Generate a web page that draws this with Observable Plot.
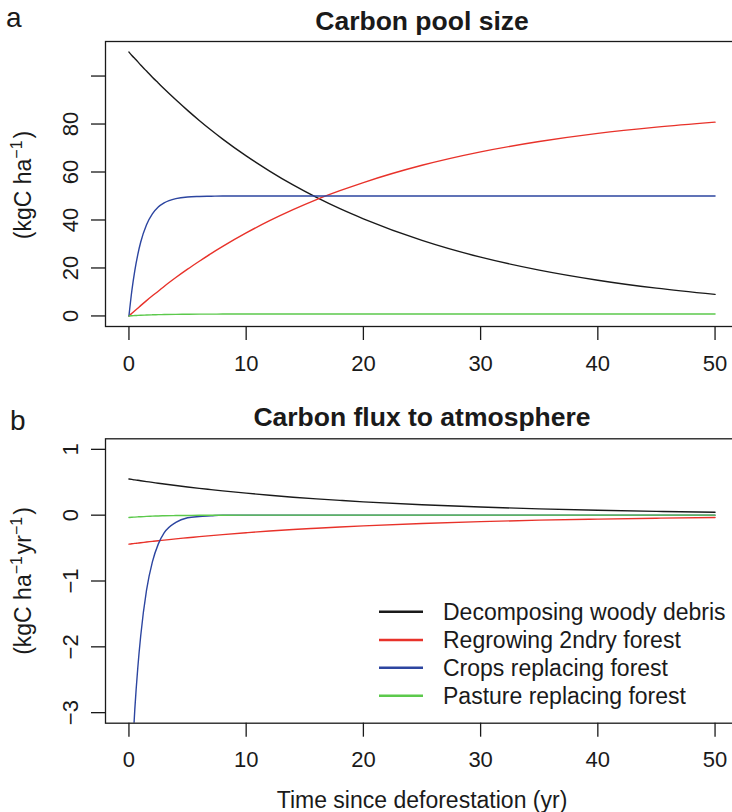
<!DOCTYPE html>
<html><head><meta charset="utf-8">
<script src="https://cdn.jsdelivr.net/npm/d3@7"></script>
<script src="https://cdn.jsdelivr.net/npm/@observablehq/plot@0.6"></script>
<style>
html,body{margin:0;padding:0;background:#fff;}
#chart{width:732px;height:812px;overflow:hidden;font-family:"Liberation Sans",Arial,Helvetica,sans-serif;}
#chart svg{display:block;overflow:hidden;}
</style></head><body><div id="chart"></div>
<script>
// ---- data ----
const years = [0,0.25,0.5,0.75,1,1.5,2,2.5,3,4,5,6,7,8,10,12,14,16,18,20,25,30,35,40,45,50];
const seriesNames = ["Decomposing woody debris","Regrowing 2ndry forest","Crops replacing forest","Pasture replacing forest"];
const seriesColors = ["#1a1a1a","#e8322a","#2c45a0","#5cc94c"];

const poolWoody  = [110,108.6,107.3,106.0,104.6,102.1,99.5,97.1,94.7,90.1,85.7,81.5,77.5,73.7,66.7,60.4,54.6,49.4,44.7,40.5,31.5,24.5,19.1,14.9,11.6,9.0];
const poolRegrow = [0,1.1,2.2,3.2,4.3,6.4,8.4,10.3,12.3,16.0,19.5,22.8,26.0,29.0,34.6,39.7,44.3,48.5,52.2,55.6,62.8,68.4,72.7,76.1,78.7,80.8];
const poolCrops  = [0,10.6,18.9,25.5,30.7,38.0,42.5,45.4,47.1,48.9,49.6,49.8,49.9,50,50,50,50,50,50,50,50,50,50,50,50,50];
const poolPasture= [0,0.09,0.16,0.23,0.29,0.39,0.47,0.54,0.59,0.67,0.72,0.75,0.77,0.78,0.79,0.80,0.80,0.80,0.80,0.80,0.80,0.80,0.80,0.80,0.80,0.80];

const fluxWoody  = [0.55,0.543,0.536,0.530,0.523,0.510,0.498,0.485,0.473,0.450,0.428,0.407,0.388,0.369,0.334,0.302,0.273,0.247,0.224,0.202,0.158,0.123,0.096,0.074,0.058,0.045];
const fluxRegrow = [-0.44,-0.435,-0.429,-0.424,-0.419,-0.408,-0.398,-0.388,-0.379,-0.360,-0.343,-0.326,-0.310,-0.295,-0.267,-0.241,-0.218,-0.198,-0.179,-0.162,-0.126,-0.098,-0.076,-0.060,-0.046,-0.036];
const fluxCrops  = [-4.75,-3.75,-2.95,-2.33,-1.84,-1.14,-0.71,-0.44,-0.27,-0.11,-0.04,-0.02,-0.01,0,0,0,0,0,0,0,0,0,0,0,0,0];
const fluxPasture= [-0.036,-0.032,-0.029,-0.026,-0.023,-0.018,-0.015,-0.012,-0.009,-0.006,-0.004,-0.002,-0.002,-0.001,0,0,0,0,0,0,0,0,0,0,0,0];

const xTicks = [0,10,20,30,40,50];
const poolTicks = [0,20,40,60,80,100];
const poolTickLabels = [0,20,40,60,80];
const fluxTicks = [-3,-2,-1,0,1];

const titleA = "Carbon pool size";
const titleB = "Carbon flux to atmosphere";
const xLabel = "Time since deforestation (yr)";

// ---- build ----
const FONT = '"Liberation Sans", Arial, Helvetica, sans-serif';
const INK = "#1a1a1a";
function rows(arrs){ return arrs.flatMap((a,i)=>years.map((t,j)=>({t, v:a[j], s:seriesNames[i]}))); }
const poolData = rows([poolWoody,poolRegrow,poolCrops,poolPasture]);
const fluxData = rows([fluxWoody,fluxRegrow,fluxCrops,fluxPasture]);
const fmt = d => d < 0 ? "\u2212" + Math.abs(d) : String(d);

function panel({data, height, mt, mb, ydom, yticks, ylabels, title, titleDy, padX, extra}){
  return Plot.plot({
    width:732, height,
    marginLeft:105, marginRight:-6, marginTop:mt, marginBottom:mb,
    style:{fontFamily:FONT, background:"white", color:INK, overflow:"hidden"},
    x:{domain:[-2,52]},
    y:{domain:ydom},
    color:{domain:seriesNames, range:seriesColors},
    marks:[
      Plot.line(data,{x:"t", y:"v", stroke:"s", strokeWidth:1.4, curve:"monotone-x", clip:true}),
      Plot.frame({stroke:INK, strokeWidth:1.3}),
      Plot.axisX({ticks:xTicks, tickSize:14, tickPadding:padX, fontSize:22, label:null, strokeWidth:1.3}),
      Plot.axisY({ticks:yticks, tickSize:14, tickFormat:()=>"", label:null, strokeWidth:1.3}),
      Plot.text(ylabels,{y:d=>d, text:fmt, frameAnchor:"left", dx:-35, rotate:-90, fontSize:22, lineAnchor:"middle", textAnchor:"middle"}),
      Plot.text([title],{frameAnchor:"top", dy:titleDy, fontSize:26.5, fontWeight:"bold", lineAnchor:"middle"}),
      ...(extra||[])
    ]
  });
}

const plotA = panel({data:poolData, height:390, mt:41, mb:64, ydom:[-4.4,114.4],
  yticks:poolTicks, ylabels:poolTickLabels, title:titleA, titleDy:-20, padX:15});
const plotB = panel({data:fluxData, height:422, mt:48.3, mb:89.3, ydom:[-3.16,1.16],
  yticks:fluxTicks, ylabels:fluxTicks, title:titleB, titleDy:-21.3, padX:14,
  extra:[Plot.text([xLabel],{frameAnchor:"bottom", dy:77, fontSize:23, lineAnchor:"middle"})]});

const root = document.getElementById("chart");
root.append(plotA, plotB);

function decorate(svgEl, letter, lx, ly, cy, sups){
  const svg = d3.select(svgEl);
  svg.append("text").attr("x",lx).attr("y",ly).attr("text-anchor","start").attr("font-size",28)
    .attr("font-family",FONT).attr("fill",INK).text(letter);
  const t = svg.append("text").attr("transform",`translate(31,${cy}) rotate(-90)`)
    .attr("text-anchor","middle").attr("font-size",23).attr("font-family",FONT).attr("fill",INK);
  sups.forEach(([txt, sup]) => {
    if (sup) {
      t.append("tspan").attr("dy",-9).attr("font-size",16).text(txt);
      t.append("tspan").attr("dy",9).text("\u200A");
    } else t.append("tspan").text(txt);
  });
}
decorate(plotA, "a", 6, 27, 185, [["(kgC ha"],["\u22121",true],[")"]]);
decorate(plotB, "b", 10, 40, 191, [["(kgC ha"],["\u22121",true],["yr"],["\u22121",true],[")"]]);

// legend inside panel b
const lg = d3.select(plotB).append("g").attr("font-family",FONT).attr("font-size",23)
  .attr("fill",INK).attr("text-anchor","start");
const legendY = [221.7, 250, 277.7, 305.7];
seriesNames.forEach((name,i)=>{
  lg.append("line").attr("x1",379).attr("x2",423).attr("y1",legendY[i]).attr("y2",legendY[i])
    .attr("stroke",seriesColors[i]).attr("stroke-width",2.4);
  lg.append("text").attr("x",443).attr("y",legendY[i]).attr("dy","0.35em").attr("text-anchor","start").text(name);
});
</script></body></html>
